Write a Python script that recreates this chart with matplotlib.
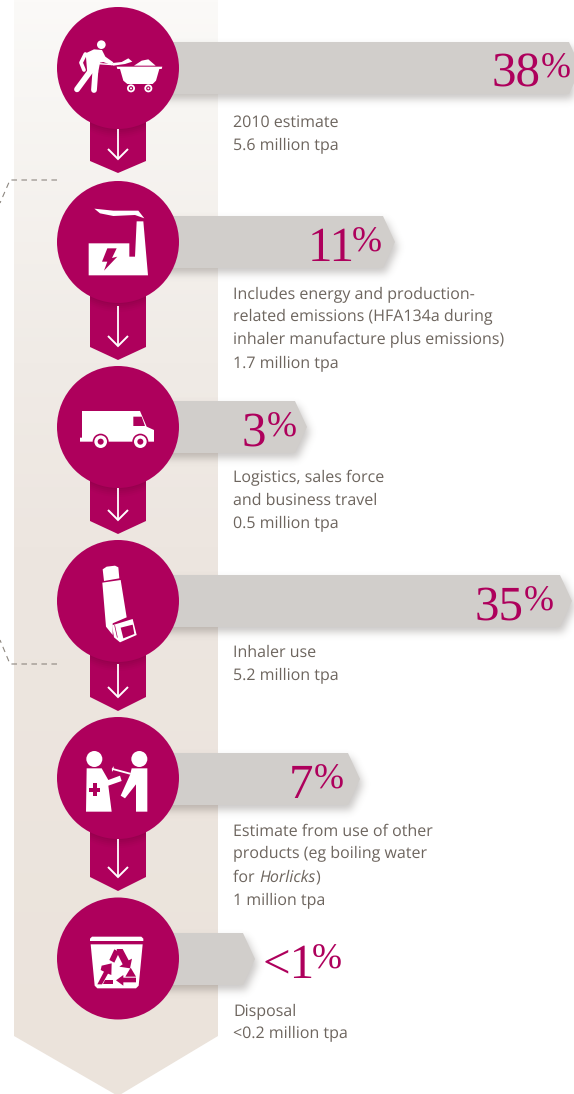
import matplotlib
matplotlib.use("Agg")
import matplotlib.pyplot as plt
import numpy as np
from matplotlib.patches import Polygon, Circle
from matplotlib.path import Path
from matplotlib.colors import LinearSegmentedColormap

plt.rcParams["text.hinting"] = "no_hinting"
plt.rcParams["text.hinting_factor"] = 1

# ---- data
stages = ["Materials", "Manufacture", "Logistics", "Inhaler use", "Other", "Disposal"]
share_values = [38, 11, 3, 35, 7, 1]
share_labels = ["38", "11", "3", "35", "7", "<1"]
tonnes_notes = [
    ["2010 estimate", "5.6 million tpa"],
    ["Includes energy and production-", "related emissions (HFA134a during",
     "inhaler manufacture plus emissions)", "1.7 million tpa"],
    ["Logistics, sales force", "and business travel", "0.5 million tpa"],
    ["Inhaler use", "5.2 million tpa"],
    ["Estimate from use of other", "products (eg boiling water", "for |Horlicks|)", "1 million tpa"],
    ["Disposal", "<0.2 million tpa"],
]

# ---- layout / style
MAROON = "#ae005c"
BAR = "#d1cecb"
TXT = "#6d655e"
CX, R = 118, 61
circle_y = [68, 242, 427, 601, 778, 958.5]
bar_top = [42, 216, 401, 575, 753, 933]
BAR_H = 52
conn_shoulder = [161, 347, 521, 697, 877]
conn_tip = [173, 360, 534, 711, 891]
arrow_start = [129, 306, 488, 664, 839]
arrow_end = [159, 346, 520, 697, 877]
text_base = [126.8, 298.8, 481.8, 656.8, 835.8, 1014.8]
LINE = 22.8
# non-linear length scale of the original graphic
scale_v = [1, 3, 7, 11, 35, 38]
scale_px = [255, 307, 360, 395, 572, 581]
pct_right = [571, 382, 297, 554, 344, 342]
digit_shift = [-1, 2, -1, -0.5, -1, 2]

fig = plt.figure(figsize=(5.74, 10.94), dpi=100, facecolor="white")
ax = fig.add_axes([0, 0, 1, 1])
ax.set_xlim(0, 574)
ax.set_ylim(1094, 0)
ax.axis("off")

# ---- background band with gradient
band = Polygon([(14, -2), (218, -2), (218, 1036), (118, 1096), (14, 1036)], closed=True,
               fc="none", ec="none", transform=ax.transData)
ax.add_patch(band)
cmap = LinearSegmentedColormap.from_list("b", [(0, "#fbfaf8"), (0.33, "#f0ebe6"), (0.5, "#ede6e0"), (1, "#ebe3db")])
im = ax.imshow(np.linspace(0, 1, 256)[:, None], extent=(14, 218, 1096, -2), cmap=cmap,
               aspect="auto", zorder=1, vmin=0, vmax=1)
im.set_clip_path(band)
ax.set_xlim(0, 574)
ax.set_ylim(1094, 0)

# ---- dashed bracket
for xs, ys in [([57, 10, 0], [180, 180, 203]), ([57, 10, 0], [664, 664, 640])]:
    ax.plot(xs, ys, color="#8d8780", lw=0.8, dashes=(5, 4), zorder=1.5, clip_on=False)

# ---- bars, with one soft blurred shadow layer beneath them
gx, gy = np.meshgrid(np.arange(574) + 0.5, np.arange(1094) + 0.5)
grid = np.column_stack([gx.ravel(), gy.ravel()])
mask = np.zeros(gx.shape)
bar_polys = []
for v, top in zip(share_values, bar_top):
    tip = float(np.interp(v, scale_v, scale_px))
    bot = top + BAR_H
    sh = tip - 12
    pts = [(CX + 30, top), (sh, top), (tip, top + BAR_H / 2), (sh, bot), (CX + 30, bot)]
    bar_polys.append(pts)
    shifted = np.asarray(pts) + [3, 5]
    mask = np.maximum(mask, Path(shifted).contains_points(grid).reshape(gx.shape).astype(float))
kern = np.exp(-0.5 * (np.arange(-12, 13) / 4.0) ** 2)
kern /= kern.sum()
mask = np.apply_along_axis(lambda r: np.convolve(r, kern, mode="same"), 1, mask)
mask = np.apply_along_axis(lambda r: np.convolve(r, kern, mode="same"), 0, mask)
rgba = np.zeros(mask.shape + (4,))
rgba[..., :3] = (0.3, 0.27, 0.25)
rgba[..., 3] = mask * 0.3
ax.imshow(rgba, extent=(0, 574, 1094, 0), aspect="auto", zorder=2, interpolation="nearest")
ax.set_xlim(0, 574)
ax.set_ylim(1094, 0)
for pts in bar_polys:
    ax.add_patch(Polygon(pts, closed=True, fc=BAR, ec="none", zorder=3))

# ---- connectors and arrows
for cy, s, t, a0, a1 in zip(circle_y, conn_shoulder, conn_tip, arrow_start, arrow_end):
    conn = Polygon([(90, cy + 30), (146, cy + 30), (146, s), (CX, t), (90, s)], closed=True,
                   fc=MAROON, ec="none", zorder=4)
    ax.add_patch(conn)
    for off, a in zip([9, 7, 5, 3, 1], [0.025, 0.03, 0.035, 0.04, 0.05]):
        c = Circle((CX, cy + off), R, fc=(0.2, 0, 0.1, a), ec="none", zorder=4.5)
        ax.add_patch(c)
        c.set_clip_path(conn)
    ax.plot([CX, CX], [a0, a1], color="white", lw=1.3, zorder=5, solid_capstyle="butt")
    ax.plot([CX - 10, CX, CX + 10], [a1 - 10, a1, a1 - 10], color="white", lw=1.4, zorder=5,
            solid_joinstyle="miter", solid_capstyle="butt")

# ---- circles
for cy in circle_y:
    ax.add_patch(Circle((CX, cy), R, fc=MAROON, ec="none", zorder=6))


# ---- icon helpers (coordinates given on a 3x grid relative to an origin)
def P(pts, o, color="white", z=7):
    a = np.asarray(pts, float) / 3 + o
    ax.add_patch(Polygon(a, closed=True, fc=color, ec="none", zorder=z))


def C(x, y, r, o, color="white", z=7):
    ax.add_patch(Circle((x / 3 + o[0], y / 3 + o[1]), r / 3, fc=color, ec="none", zorder=z))


def L(pts, o, w, color="white", z=7):
    a = np.asarray(pts, float) / 3 + o
    ax.plot(a[:, 0], a[:, 1], color=color, lw=w / 3 * 0.72 * 1.39, solid_capstyle="round",
            solid_joinstyle="round", zorder=z)


# miner
o = (70, 30)
C(94, 44, 13, o)
P([(47, 70), (72, 58), (96, 60), (106, 80), (130, 97), (126, 106), (100, 96), (90, 98), (84, 130), (52, 130)], o)
L([(60, 125), (21, 178)], o, 12.5)
L([(76, 125), (72, 180)], o, 12.5)
L([(46, 72), (33, 98), (42, 120)], o, 8)
L([(86, 101), (130, 104)], o, 3)
P([(128, 99), (155, 96), (175, 85), (187, 95), (165, 102), (130, 107)], o)
P([(140, 110), (277, 110), (275, 117), (142, 117)], o)
P([(150, 117), (268, 117), (258, 152), (248, 162), (172, 162), (160, 152)], o)
P([(192, 107), (215, 92), (235, 88), (257, 107)], o)
for wx in (183, 235):
    C(wx, 175, 12, o)
    C(wx, 175, 6.5, o, MAROON, 7.1)
    C(wx, 175, 3, o, "white", 7.2)

# factory
o = (0, 0)
P([(266, 730), (388, 730), (388, 770), (405, 770), (410, 664), (430, 664), (444, 826), (266, 826)], o)
P([(283, 626), (340, 632), (415, 632), (433, 655), (405, 645), (340, 648), (300, 640)], o)
P([(322, 745), (350, 745), (336, 774), (352, 770), (312, 812), (322, 785), (306, 785)], o, MAROON, 7.1)

# truck
o = (0, 360)
P([(246, 153), (420, 153), (440, 200), (462, 210), (462, 245), (240, 245), (240, 233), (246, 233)], o)
P([(400, 170), (425, 170), (435, 198), (400, 198)], o, MAROON, 7.1)
for wx in (302, 421):
    C(wx, 245, 24, o, MAROON, 7.1)
    C(wx, 245, 19, o, "white", 7.2)
    C(wx, 245, 9, o, MAROON, 7.3)

# inhaler
o = (90, 560)
P([(38, 28), (50, 20), (75, 17), (85, 22), (88, 55), (42, 63)], o)
P([(37, 68), (92, 60), (110, 172), (68, 190), (68, 225), (48, 200)], o)
P([(66, 196), (128, 177), (140, 225), (90, 247), (72, 232)], o)
P([(92, 203), (128, 194), (133, 222), (100, 235)], o, MAROON, 7.1)
L([(74, 196), (82, 232)], o, 1.5, MAROON, 7.1)

# doctor and patient
o = (80, 745)
C(43, 42, 24, o)
C(178, 42, 24, o)
P([(20, 70), (65, 70), (85, 105), (120, 92), (125, 108), (85, 122), (95, 200), (18, 200)], o)
P([(27, 128), (38, 128), (38, 115), (50, 115), (50, 128), (60, 128), (60, 140), (50, 140),
   (50, 152), (38, 152), (38, 140), (27, 140)], o, MAROON, 7.1)
P([(155, 70), (202, 70), (202, 200), (168, 200), (168, 118), (135, 160), (122, 152), (150, 90)], o)
L([(98, 72), (150, 86)], o, 4)
L([(100, 66), (97, 78)], o, 2)

# bin and recycling arrows
o = (80, 925)
P([(36, 35), (184, 35), (190, 41), (190, 48), (30, 48), (30, 41)], o)
P([(32, 58), (188, 58), (176, 182), (168, 190), (52, 190), (44, 182)], o)
P([(88, 105), (103, 73), (118, 81), (103, 113)], o, MAROON, 7.1)
P([(110, 72), (128, 72), (146, 106), (156, 101), (150, 130), (118, 125), (128, 118), (113, 88)], o, MAROON, 7.1)
P([(152, 128), (168, 155), (136, 155)], o, MAROON, 7.1)
P([(168, 158), (168, 172), (130, 172), (130, 182), (108, 166), (130, 150), (130, 158)], o, MAROON, 7.1)
P([(75, 165), (100, 165), (100, 178), (68, 178)], o, MAROON, 7.1)
P([(52, 178), (72, 140), (62, 135), (65, 122), (95, 115), (94, 150), (84, 146), (66, 178)], o, MAROON, 7.1)

# ---- percentages
for lab, right, top, ds in zip(share_labels, pct_right, bar_top, digit_shift):
    base = top + 45
    tp = ax.text(right, base - 9.5, "%", family="Liberation Serif", fontsize=26, color=MAROON,
                 ha="right", va="baseline", zorder=8)
    bb = tp.get_window_extent(fig.canvas.get_renderer())
    ax.text(bb.x0 * 574 / fig.bbox.width + 0.5 + ds, base, lab, family="Liberation Serif", fontsize=35.5,
            color=MAROON, ha="right", va="baseline", zorder=8)

# ---- notes
rend = fig.canvas.get_renderer()
for lines, y0 in zip(tonnes_notes, text_base):
    for i, line in enumerate(lines):
        y = y0 + i * LINE
        x = 233
        for j, part in enumerate(line.split("|")):
            if not part:
                continue
            t = ax.text(x, y, part, family="Open Sans", fontsize=11.85, color=TXT, ha="left", va="baseline",
                        style="italic" if j % 2 else "normal", zorder=8)
            x = t.get_window_extent(rend).x1 * 574 / fig.bbox.width + 0.3

fig.savefig("out.png", dpi=100, facecolor="white")
